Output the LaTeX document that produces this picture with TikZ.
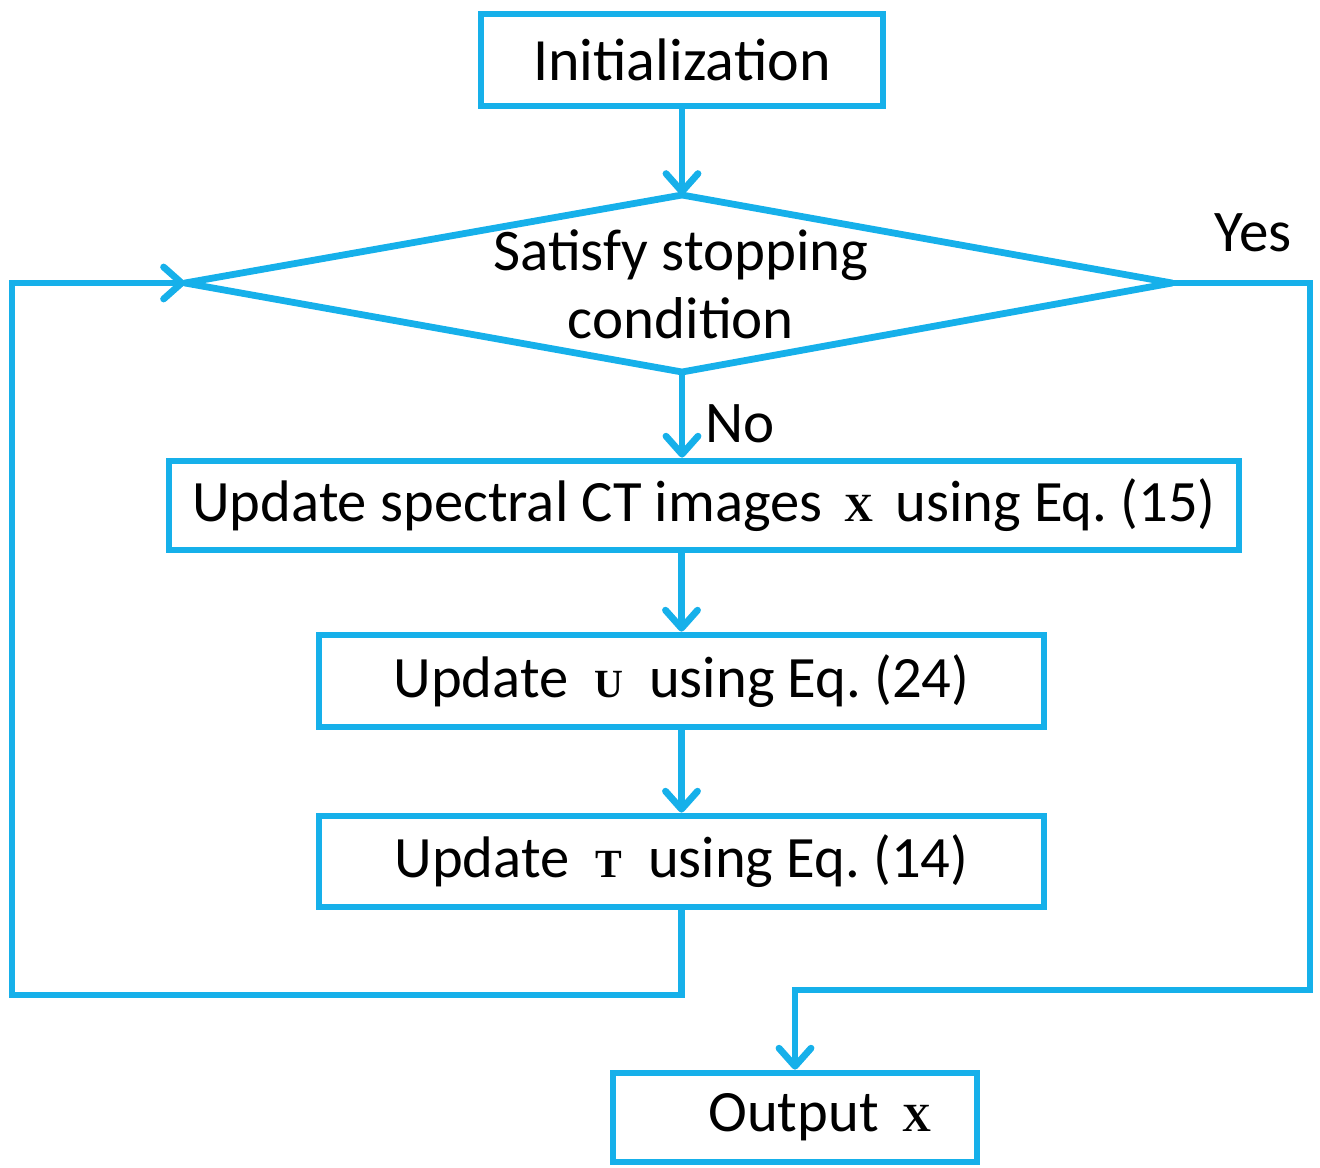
\documentclass[tikz,border=0pt]{standalone}
\usepackage{fontspec}
\setmainfont{Carlito}
\newfontfamily\symserif{Liberation Serif}
\usetikzlibrary{arrows.meta}
\definecolor{fc}{RGB}{22,176,234}
\newcommand{\bsym}[1]{{\symserif\bfseries\fontsize{20}{20}\selectfont #1}}
\frenchspacing
\begin{document}
\begin{tikzpicture}[x=0.5pt,y=-0.5pt,
  box/.style={draw=fc, line width=3.4pt, inner sep=0pt, font=\fontsize{29.3}{34}\selectfont},
  lbl/.style={inner sep=0pt, font=\fontsize{29.5}{34}\selectfont},
  arr/.style={draw=fc, line width=3.4pt, line join=miter, -{Straight Barb[length=9pt,width=16pt,round]}},
  ln/.style={draw=fc, line width=3.4pt, line join=round}]
\useasboundingbox (0,0) rectangle (1320,1167);
% boxes
\node[box, minimum width=201pt, minimum height=46pt, font=\fontsize{30}{34}\selectfont] (init) at (682,60) {Initialization};
\node[box, minimum width=535pt, minimum height=44.5pt] (b1) at (704,505.5) {Update spectral CT images\hspace{11pt}\bsym{X}\hspace{11pt}using Eq. (15)};
\node[box, minimum width=362.5pt, minimum height=46pt] (b2) at (681.5,681) {Update\hspace{13pt}\bsym{U}\hspace{13pt}using Eq. (24)};
\node[box, minimum width=362.5pt, minimum height=45.5pt] (b3) at (681.5,861.5) {Update\hspace{13pt}\bsym{T}\hspace{13pt}using Eq. (14)};
\node[box, minimum width=182pt, minimum height=44.5pt] (out) at (795,1117.5) {\hspace{25pt}Output\hspace{12pt}\bsym{X}};
% diamond
\coordinate (dtop) at (682,195);
\coordinate (dleft) at (185,283);
\coordinate (dright) at (1172,283);
\coordinate (dbot) at (682,372);
\draw[ln] (dtop) -- (dright) -- (dbot) -- (dleft) -- cycle;
\node[lbl, align=center] (cond) at (681,284) {Satisfy stopping\\condition};
% labels
\node[lbl] (yes) at (1253,233) {Yes};
\node[lbl] (no) at (740,424) {No};
% corners
\coordinate (lc) at (12,995);
\coordinate (lu) at (12,283);
\coordinate (ru) at (1310,283);
\coordinate (rd) at (1310,990);
% connectors
\draw[arr] (init.south) -- (dtop);
\draw[arr] (dbot) -- (dbot |- b1.north);
\draw[arr] (b2.north |- b1.south) -- (b2.north);
\draw[arr] (b2.south) -- (b3.north);
\draw[arr] (b3.south) |- (lc) -- (lu) -- (dleft);
\draw[arr] (dright) -- (ru) -- (rd) -| (out.north);
\end{tikzpicture}
\end{document}
